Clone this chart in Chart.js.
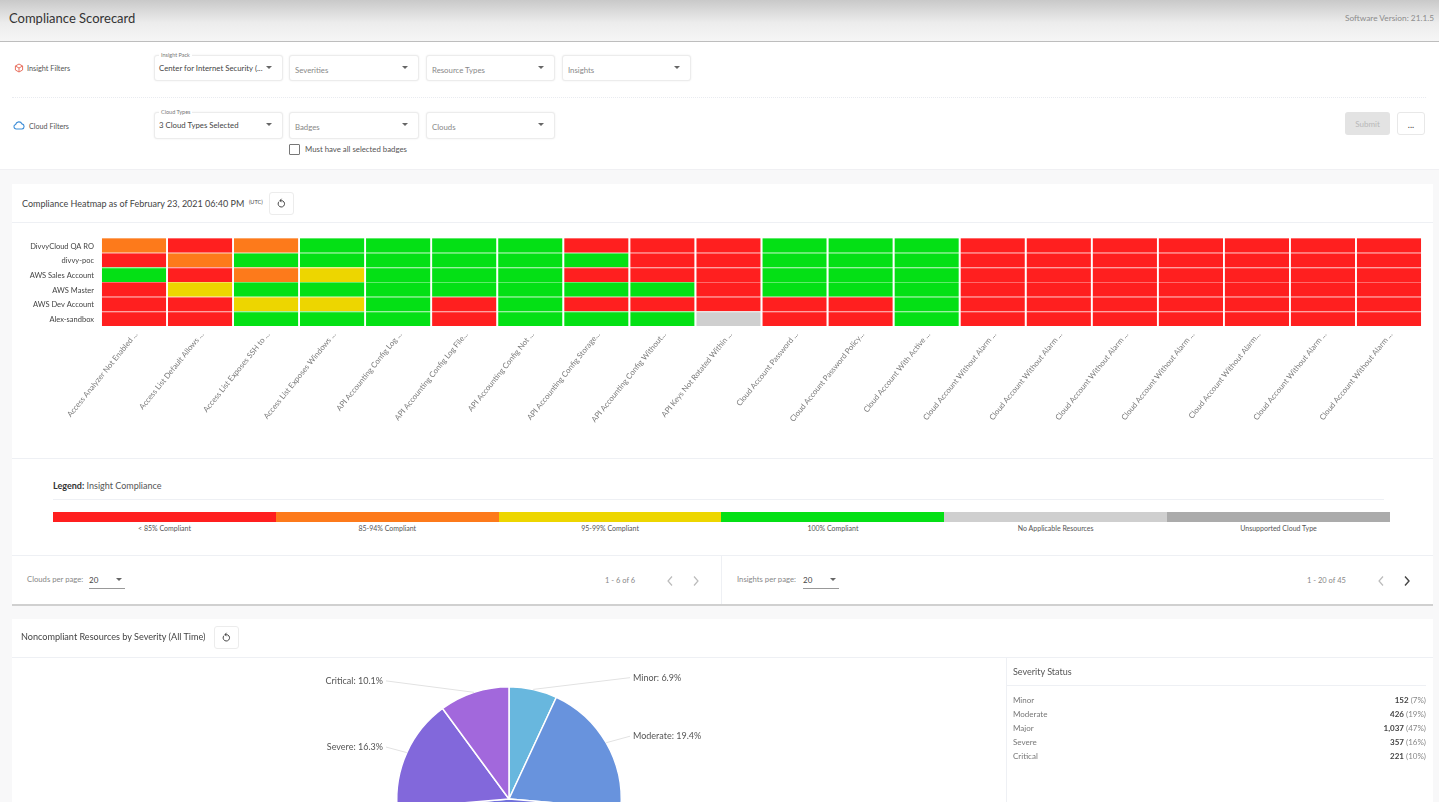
<!DOCTYPE html>
<html><head><meta charset="utf-8"><title>Compliance Scorecard</title>
<script src="https://cdn.jsdelivr.net/npm/chart.js@4/dist/chart.umd.js"></script>
<style>
html,body{margin:0;padding:0;width:1439px;height:802px;overflow:hidden;background:#f8f8f9;font-family:Lato,"Open Sans",sans-serif;color:#555}
#page{position:absolute;left:0;top:0;width:1439px;height:802px;overflow:hidden;filter:blur(.45px)}
.a{position:absolute;white-space:nowrap}
.t{position:absolute;white-space:nowrap;transform:translateY(-50%);line-height:1}
#hdr{left:0;top:0;width:1439px;height:41px;background:linear-gradient(#c9c9c9,#ececec 55%,#f6f6f6);border-bottom:1px solid #bdbdbd}
#filters{left:0;top:42px;width:1439px;height:127px;background:#fff;border-bottom:1px solid #f0f0f3}
.card{position:absolute;background:#fff}
.sel{position:absolute;box-sizing:border-box;background:#fff;border:1px solid #ececec;border-radius:3px;box-shadow:0 0 2px rgba(0,0,0,.08)}
.caret{position:absolute;width:0;height:0;border-left:3.5px solid transparent;border-right:3.5px solid transparent;border-top:3.5px solid #666}
.rule{position:absolute;background:#eef0f4;height:1px}
.btn{position:absolute;box-sizing:border-box;width:25px;height:23px;background:#fff;border:1px solid #ececec;border-radius:3px}
canvas{position:absolute;display:block}
</style></head><body><div id="page">
<div class="a" id="hdr"></div>
<div class="t" style="left:9px;top:18px;font-size:13px;color:#333">Compliance Scorecard</div>
<div class="t" style="right:5px;top:18px;font-size:8.3px;color:#8c8c8c">Software Version: 21.1.5</div>
<div class="a" id="filters"></div>
<svg class="a" style="left:14px;top:63px" width="10" height="10" viewBox="0 0 10 10" fill="none" stroke="#e8705f" stroke-width="1"><path d="M5 1 8.6 3v4L5 9 1.4 7V3zM1.4 3 5 5l3.6-2M5 5v4"/></svg>
<div class="t" style="left:27px;top:69px;font-size:7.3px;color:#555">Insight Filters</div>
<svg class="a" style="left:13px;top:120px" width="12" height="10" viewBox="0 0 12 10" fill="none" stroke="#3f8fd8" stroke-width="1.1"><path d="M3 9a2.3 2.3 0 0 1-.4-4.5A3.4 3.4 0 0 1 9 3.9 2.6 2.6 0 0 1 9 9z"/></svg>
<div class="t" style="left:29px;top:127px;font-size:7.2px;color:#555">Cloud Filters</div>
<div id="dropdowns"></div>
<div class="a" style="left:12px;top:97px;width:1414px;border-top:1px dotted #e9ebf0"></div>
<div class="a" style="left:289px;top:144px;width:9px;height:9px;border:1px solid #777;border-radius:1px;background:#fff"></div>
<div class="t" style="left:305px;top:150px;font-size:7.8px;color:#555">Must have all selected badges</div>
<div class="a" style="left:1345px;top:112px;width:45px;height:23px;background:#e3e3e3;border-radius:3px"></div>
<div class="t" style="left:1345px;width:45px;text-align:center;top:124px;font-size:8px;color:#b8b8b8">Submit</div>
<div class="a" style="box-sizing:border-box;left:1397px;top:112px;width:28px;height:23px;background:#fff;border:1px solid #e8e8e8;border-radius:3px"></div>
<div class="t" style="left:1397px;width:28px;text-align:center;top:124px;font-size:9px;color:#444">...</div>

<div class="card" style="left:12px;top:184px;width:1421px;height:422px;border-bottom:2px solid #d0d0d0;box-sizing:border-box"></div>
<div class="t" style="left:22px;top:203px;font-size:9px;color:#444">Compliance Heatmap as of February 23, 2021 06:40 PM&nbsp;&nbsp;<sup style="font-size:5.5px;vertical-align:3px">(UTC)</sup></div>
<div class="btn" style="left:269px;top:192px"></div>
<svg class="a" style="left:277px;top:198px" width="9" height="11" viewBox="0 0 9 11" fill="none" stroke="#444" stroke-width="1"><path d="M2 3.6a3.2 3.2 0 1 0 2.5-1H3M4.5 .8 3 2.6l1.5 1.6"/></svg>
<div class="rule" style="left:12px;top:222px;width:1421px"></div>
<canvas id="heat" style="left:12px;top:225px"></canvas>
<div class="rule" style="left:12px;top:458px;width:1421px"></div>
<div class="t" style="left:53px;top:485px;font-size:9px;color:#555"><b style="color:#333">Legend:</b> Insight Compliance</div>
<div class="rule" style="left:53px;top:499px;width:1331px"></div>
<div id="legendBar"></div>
<div class="rule" style="left:12px;top:555px;width:1421px"></div>
<div class="a" style="left:721px;top:555px;width:1px;height:49px;background:#eef0f4"></div>
<div class="t" style="left:27px;top:580px;font-size:7.7px;color:#888">Clouds per page:</div>
<div class="t" style="left:89px;top:580px;font-size:8px;color:#444">20</div>
<div class="caret" style="left:116px;top:578px"></div>
<div class="a" style="left:89px;top:588px;width:36px;height:1px;background:#999"></div>
<div class="t" style="left:605px;top:581px;font-size:7.5px;color:#888">1 - 6 of 6</div>
<svg class="a" style="left:666px;top:575px" width="8" height="12" viewBox="0 0 8 12" fill="none" stroke="#bbb" stroke-width="1.2"><path d="M6 1.5 2 6l4 4.5"/></svg>
<svg class="a" style="left:692px;top:575px" width="8" height="12" viewBox="0 0 8 12" fill="none" stroke="#bbb" stroke-width="1.2"><path d="M2 1.5 6 6l-4 4.5"/></svg>
<div class="t" style="left:737px;top:580px;font-size:7.7px;color:#888">Insights per page:</div>
<div class="t" style="left:803px;top:580px;font-size:8px;color:#444">20</div>
<div class="caret" style="left:830px;top:578px"></div>
<div class="a" style="left:803px;top:588px;width:36px;height:1px;background:#999"></div>
<div class="t" style="left:1307px;top:581px;font-size:7.5px;color:#888">1 - 20 of 45</div>
<svg class="a" style="left:1377px;top:575px" width="8" height="12" viewBox="0 0 8 12" fill="none" stroke="#bbb" stroke-width="1.2"><path d="M6 1.5 2 6l4 4.5"/></svg>
<svg class="a" style="left:1403px;top:575px" width="8" height="12" viewBox="0 0 8 12" fill="none" stroke="#444" stroke-width="1.4"><path d="M2 1.5 6 6l-4 4.5"/></svg>

<div class="card" style="left:12px;top:619px;width:1421px;height:183px"></div>
<div class="t" style="left:21px;top:637px;font-size:9.1px;color:#444">Noncompliant Resources by Severity (All Time)</div>
<div class="btn" style="left:214px;top:626px"></div>
<svg class="a" style="left:222px;top:632px" width="9" height="11" viewBox="0 0 9 11" fill="none" stroke="#444" stroke-width="1"><path d="M2 3.6a3.2 3.2 0 1 0 2.5-1H3M4.5 .8 3 2.6l1.5 1.6"/></svg>
<div class="rule" style="left:12px;top:657px;width:1421px"></div>
<div class="a" style="left:1006px;top:657px;width:1px;height:145px;background:#eef0f4"></div>
<canvas id="pie" style="left:12px;top:658px"></canvas>
<div class="t" style="left:1013px;top:671px;font-size:9px;color:#555">Severity Status</div>
<div class="rule" style="left:1006px;top:685px;width:420px"></div>
<div id="sevTable"></div>
</div>
<script>
// ---- heatmap data ----
const cloudLabels = ["DivvyCloud QA RO","divvy-poc","AWS Sales Account","AWS Master","AWS Dev Account","Alex-sandbox"];
const insightLabels = [
 "Access Analyzer Not Enabled ...","Access List Default Allows ...","Access List Exposes SSH to ...","Access List Exposes Windows ...",
 "API Accounting Config Log ...","API Accounting Config Log File...","API Accounting Config Not ...","API Accounting Config Storage...",
 "API Accounting Config Without...","API Keys Not Rotated Within ...","Cloud Account Password ...","Cloud Account Password Policy...",
 "Cloud Account With Active ...","Cloud Account Without Alarm ...","Cloud Account Without Alarm ...","Cloud Account Without Alarm ...",
 "Cloud Account Without Alarm ...","Cloud Account Without Alarm...","Cloud Account Without Alarm ...","Cloud Account Without Alarm ..."];
// R <85%, O 85-94%, Y 95-99%, G 100%, N no applicable resources
const statusDivvyQa  = ["O","R","O","G","G","G","G","R","R","R","G","G","G","R","R","R","R","R","R","R"];
const statusDivvyPoc = ["R","O","G","G","G","G","G","G","R","R","G","G","G","R","R","R","R","R","R","R"];
const statusSales    = ["G","R","O","Y","G","G","G","R","R","R","G","G","G","R","R","R","R","R","R","R"];
const statusMaster   = ["R","Y","G","G","G","G","G","G","G","R","G","G","G","R","R","R","R","R","R","R"];
const statusDev      = ["R","R","Y","Y","G","R","G","R","R","R","R","R","G","R","R","R","R","R","R","R"];
const statusSandbox  = ["R","R","G","G","G","R","G","G","G","N","R","R","G","R","R","R","R","R","R","R"];
const cloudStatuses = [statusDivvyQa,statusDivvyPoc,statusSales,statusMaster,statusDev,statusSandbox];
const legendLabels = ["< 85% Compliant","85-94% Compliant","95-99% Compliant","100% Compliant","No Applicable Resources","Unsupported Cloud Type"];
const legendColors = ["#FF1F1F","#FD7A1B","#EDD600","#04E015","#CFCFCF","#ABABAB"];
const statusColor = {R:"#FF1F1F",O:"#FD7A1B",Y:"#EDD600",G:"#04E015",N:"#CFCFCF",U:"#ABABAB"};
const statusEdge  = {R:"#FF6A6A",O:"#FDA666",Y:"#F3E355",G:"#5FEB6A",N:"#E0E0E0",U:"#C8C8C8"};
// ---- severity data ----
const severityLabels = ["Minor","Moderate","Major","Severe","Critical"];
const severityValues = [152,426,1037,357,221];
const severityColors = ["#68B7DE","#6893DD","#7070DC","#8268DB","#A268DC"];

// ---- static page widgets ----
const dropdowns = [
 [154,55,129,26,"Insight Pack","Center for Internet Security (...",true],
 [289,55,130,26,"","Severities",false],
 [426,55,129,26,"","Resource Types",false],
 [562,55,129,26,"","Insights",false],
 [154,112,129,27,"Cloud Types","3 Cloud Types Selected",true],
 [289,112,130,27,"","Badges",false],
 [426,112,129,27,"","Clouds",false]];
const dd=document.getElementById('dropdowns');
dropdowns.forEach(([x,y,w,h,lab,val,filled])=>{
  let s=`<div class="sel" style="left:${x}px;top:${y}px;width:${w}px;height:${h}px"></div>`;
  if(lab) s+=`<div class="t" style="left:${x+5}px;top:${y+1}px;font-size:5.5px;color:#777;background:#fff;padding:0 2px">${lab}</div>`;
  s+=`<div class="t" style="left:${x+(filled?5:6)}px;top:${y+(filled?14:16)}px;font-size:7.8px;color:${filled?'#444':'#888'}">${val}</div>`;
  s+=`<div class="caret" style="left:${x+w-17}px;top:${y+10.5}px"></div>`;
  dd.insertAdjacentHTML('beforeend',s);
});
const lb=document.getElementById('legendBar');
legendLabels.forEach((l,i)=>{
  const x0=53+i*222.8;
  lb.insertAdjacentHTML('beforeend',`<div class="a" style="left:${x0}px;top:512px;width:223px;height:9.5px;background:${legendColors[i]}"></div>
  <div class="t" style="left:${x0}px;width:223px;text-align:center;top:528px;font-size:7px;color:#555">${l.replace('<','&lt;')}</div>`);
});
const total=severityValues.reduce((a,b)=>a+b,0);
const st=document.getElementById('sevTable');
severityLabels.forEach((l,i)=>{
  const y=699.5+i*14;
  st.insertAdjacentHTML('beforeend',`<div class="t" style="left:1013px;top:${y}px;font-size:8px;color:#777">${l}</div>
  <div class="t" style="right:13px;top:${y}px;font-size:8px;color:#888"><b style="color:#444">${severityValues[i].toLocaleString('en-US')}</b> (${Math.round(severityValues[i]/total*100)}%)</div>`);
});

// ---- heatmap chart ----
Chart.defaults.font.family='Lato';
const heatCanvas=document.getElementById('heat');
heatCanvas.width=1421;heatCanvas.height=233;
new Chart(heatCanvas,{
 type:'bar',
 data:{labels:insightLabels,datasets:cloudStatuses.map((row,i)=>({
   label:cloudLabels[i],yAxisID:'yv',data:row.map(()=>1),
   backgroundColor:row.map(s=>statusColor[s]),
   borderColor:row.map(s=>statusEdge[s]),
   borderWidth:{top:1,bottom:0,left:0,right:0},borderSkipped:false,
   barPercentage:0.975,categoryPercentage:1}))},
 options:{responsive:false,animation:false,devicePixelRatio:1,
  layout:{padding:{top:13,right:11,left:0,bottom:0}},
  plugins:{legend:{display:false},tooltip:{enabled:false}},
  scales:{
   x:{stacked:true,grid:{display:false},border:{display:false},
      afterFit(s){s.height=132;},
      ticks:{autoSkip:false,minRotation:51,maxRotation:51,padding:-4,labelOffset:2,color:'#7a7a7a',font:{size:7.8}}},
   y:{type:'category',labels:cloudLabels,offset:true,grid:{display:false},border:{display:false},
      afterFit(s){s.width=89;},
      ticks:{color:'#444',font:{size:7.5},padding:-1,labelOffset:1}},
   yv:{stacked:true,display:false,min:0,max:cloudLabels.length,reverse:true}
  }}
});

// ---- pie chart ----
const pieLabelPlugin={id:'pieLabels',afterDatasetsDraw(chart){
  const ctx=chart.ctx,meta=chart.getDatasetMeta(0);
  ctx.save();ctx.font='9px Lato';ctx.textBaseline='middle';
  meta.data.forEach((arc,i)=>{
    if(severityLabels[i]==='Major')return;
    const p=arc.getProps(['x','y','startAngle','endAngle','outerRadius'],true);
    const a=(p.startAngle+p.endAngle)/2,r=p.outerRadius;
    const px=p.x+r*Math.cos(a),py=p.y+r*Math.sin(a);
    const right=Math.cos(a)>0;
    const ly=py-(1+11*Math.abs(Math.sin(a)));
    const lx=p.x+(right?124:-126);
    ctx.strokeStyle='#e2e2e2';ctx.lineWidth=1;ctx.beginPath();ctx.moveTo(px,py);
    ctx.lineTo(lx+(right?-3:3),ly);ctx.stroke();
    ctx.fillStyle='#555';ctx.textAlign=right?'left':'right';
    ctx.fillText(severityLabels[i]+': '+(severityValues[i]/total*100).toFixed(1)+'%',lx,ly);
  });
  ctx.restore();
}};
const pieCanvas=document.getElementById('pie');
pieCanvas.width=994;pieCanvas.height=282;
new Chart(pieCanvas,{
 type:'pie',
 data:{labels:severityLabels,datasets:[{data:severityValues,backgroundColor:severityColors,borderColor:'#fff',borderWidth:1.5}]},
 options:{responsive:false,animation:false,devicePixelRatio:1,
  layout:{padding:28},
  plugins:{legend:{display:false},tooltip:{enabled:false}}},
 plugins:[pieLabelPlugin]
});
</script>
</body></html>
